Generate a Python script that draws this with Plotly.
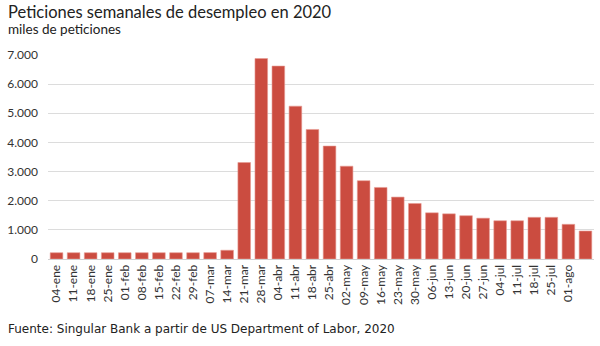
import plotly.graph_objects as go

semanas = ["04-ene", "11-ene", "18-ene", "25-ene", "01-feb", "08-feb", "15-feb", "22-feb",
           "29-feb", "07-mar", "14-mar", "21-mar", "28-mar", "04-abr", "11-abr", "18-abr",
           "25-abr", "02-may", "09-may", "16-may", "23-may", "30-may", "06-jun", "13-jun",
           "20-jun", "27-jun", "04-jul", "11-jul", "18-jul", "25-jul", "01-ago", "08-ago"]
peticiones = [215, 215, 215, 215, 215, 215, 215, 215,
              215, 220, 300, 3310, 6880, 6620, 5245, 4445,
              3875, 3185, 2687, 2455, 2125, 1905, 1585, 1550,
              1485, 1400, 1312, 1312, 1430, 1430, 1190, 960]
etiquetas = semanas[:-1] + [""]
yticks = [0, 1000, 2000, 3000, 4000, 5000, 6000, 7000]

W, H = 600, 346
ml, mr, mt, mb = 48, 6, 55, 87
pw, ph = W - ml - mr, H - mt - mb

fig = go.Figure(go.Bar(
    x=semanas, y=peticiones,
    marker=dict(color="#CB4C40", line=dict(color="#E79A92", width=0.6)),
    width=0.74,
))

fig.update_layout(
    width=W, height=H,
    margin=dict(l=ml, r=mr, t=mt, b=mb, pad=0),
    paper_bgcolor="white", plot_bgcolor="white",
    separators=",.",
    font=dict(family="Lato, 'Open Sans', sans-serif", color="#444"),
    showlegend=False,
    bargap=0.26,
    xaxis=dict(
        tickmode="array", tickvals=semanas, ticktext=etiquetas,
        tickangle=-90, tickfont=dict(size=12, color="#333"),
        showgrid=False, showline=True, linecolor="#d0d0d0", linewidth=1,
        ticks="", range=[-0.5, len(semanas) - 0.5],
    ),
    yaxis=dict(
        range=[0, 7000], tickvals=yticks, tickformat=",d",
        tickfont=dict(size=12, color="#333"),
        showgrid=True, gridcolor="#dcdcdc", gridwidth=1,
        zeroline=False, showline=False, ticks="", ticklabelstandoff=9,
    ),
    annotations=[
        dict(text="Peticiones semanales de desempleo en 2020", xref="paper", yref="paper",
             x=(6 - ml) / pw, y=(H - mb - 12) / ph, xanchor="left", yanchor="middle",
             showarrow=False, font=dict(size=16.5, color="#222")),
        dict(text="miles de peticiones", xref="paper", yref="paper",
             x=(6 - ml) / pw, y=(H - mb - 29) / ph, xanchor="left", yanchor="middle",
             showarrow=False, font=dict(size=13.5, color="#222")),
        dict(text="Fuente: Singular Bank a partir de US Department of Labor, 2020",
             xref="paper", yref="paper",
             x=(6 - ml) / pw, y=(H - mb - 329) / ph, xanchor="left", yanchor="middle",
             showarrow=False, font=dict(family="'DejaVu Sans', sans-serif", size=12, color="#222")),
    ],
)

fig.write_html("out.html")
